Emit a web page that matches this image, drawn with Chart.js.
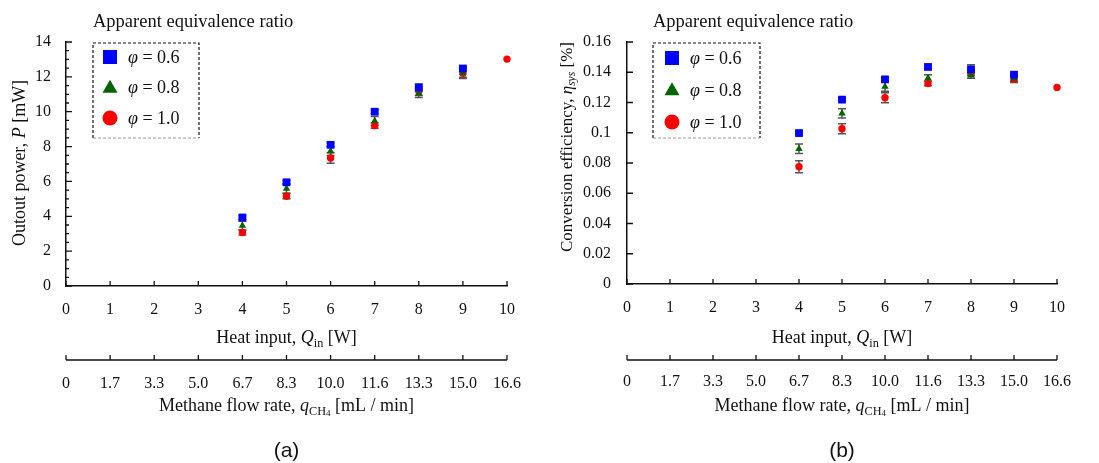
<!DOCTYPE html>
<html lang="en">
<head>
<meta charset="UTF-8">
<title>Output power and conversion efficiency</title>
<style>
    body { margin: 0; background: #fff; width: 1099px; height: 463px; overflow: hidden; position: relative; }
    canvas { position: absolute; top: 0; }
    #chartA { left: 0; }
    #chartB { left: 550px; }
</style>
</head>
<body>

<canvas id="chartA" width="550" height="463"></canvas>
<canvas id="chartB" width="549" height="463"></canvas>

<script src="https://cdn.jsdelivr.net/npm/chart.js"></script>
<script>
    // heat input Q_in [W] and matching methane flow rate tick labels
    const heatInput = [4, 5, 6, 7, 8, 9, 10];
    const flowRateLabels = ['0', '1.7', '3.3', '5.0', '6.7', '8.3', '10.0', '11.6', '13.3', '15.0', '16.6'];
    const seriesNames = ['φ = 0.6', 'φ = 0.8', 'φ = 1.0'];

    // (a) output power P [mW]
    const powerPhi06 = [3.93, 5.95, 8.10, 10.0, 11.39, 12.48, null];
    const powerPhi08 = [3.46, 5.59, 7.74, 9.47, 11.06, 12.23, null];
    const powerPhi10 = [3.07, 5.15, 7.34, 9.20, 11.18, 12.20, 13.02];
    const powerErr06 = [0.10, 0.10, 0.10, 0.10, 0.20, 0.15, 0];
    const powerErr08 = [0.25, 0.25, 0.25, 0.25, 0.25, 0.25, 0];
    const powerErr10 = [0.15, 0.15, 0.30, 0.15, 0.25, 0.30, 0];

    // (b) conversion efficiency eta_sys [%]
    const effPhi06 = [0.0998, 0.1219, 0.1353, 0.1435, 0.1419, 0.1384, null];
    const effPhi08 = [0.0894, 0.1128, 0.1305, 0.1362, 0.1380, 0.1360, null];
    const effPhi10 = [0.0775, 0.1026, 0.1232, 0.1325, 0.1397, 0.1353, 0.1300];
    const effErr06 = [0.001, 0.001, 0.001, 0.001, 0.003, 0.001, 0];
    const effErr08 = [0.0032, 0.003, 0.003, 0.0022, 0.002, 0.002, 0];
    const effErr10 = [0.004, 0.0033, 0.0033, 0.0015, 0.002, 0.002, 0];

    const serif = '"Liberation Serif", "Times New Roman", serif';
    const colors = ['#0000ff', '#006400', '#ff0000'];
    const styles = ['rect', 'triangle', 'circle'];
    const radii = [5.5, 4.3, 3.7];

    // draws text made of pieces: '' normal, 'i' italic, 's' subscript, 'si' italic subscript, 'ss' small subscript
    function drawRich(ctx, parts, cx, cy, size, align) {
        const items = parts.map(function (p) {
            const k = p[1];
            let s = size, dy = 0;
            if (k.indexOf('ss') === 0) { s = size * 0.5; dy = size * 0.3; }
            else if (k.indexOf('s') === 0) { s = size * 0.68; dy = size * 0.2; }
            const font = (k.indexOf('i') >= 0 ? 'italic ' : '') + s + 'px ' + serif;
            ctx.font = font;
            return { t: p[0], font: font, dy: dy, w: ctx.measureText(p[0]).width };
        });
        const total = items.reduce((a, b) => a + b.w, 0);
        let x = align === 'left' ? cx : cx - total / 2;
        ctx.textAlign = 'left';
        ctx.textBaseline = 'alphabetic';
        items.forEach(function (it) {
            ctx.font = it.font;
            ctx.fillText(it.t, x, cy + size * 0.33 + it.dy);
            x += it.w;
        });
    }

    function drawMarker(ctx, style, x, y, size, color) {
        ctx.fillStyle = color;
        ctx.beginPath();
        if (style === 'rect') {
            ctx.rect(x - size / 2, y - size / 2, size, size);
        } else if (style === 'triangle') {
            const h = size * 0.866;
            ctx.moveTo(x, y - h * 0.6);
            ctx.lineTo(x + size / 2, y + h * 0.4);
            ctx.lineTo(x - size / 2, y + h * 0.4);
            ctx.closePath();
        } else {
            ctx.arc(x, y, size / 2, 0, Math.PI * 2);
        }
        ctx.fill();
    }

    const errorBars = {
        id: 'errorBars',
        beforeDatasetsDraw(chart) {
            const ctx = chart.ctx, yScale = chart.scales.y;
            ctx.save();
            ctx.strokeStyle = '#555';
            ctx.lineWidth = 1.5;
            chart.data.datasets.forEach(function (ds, i) {
                const meta = chart.getDatasetMeta(i);
                meta.data.forEach(function (pt, j) {
                    const v = ds.data[j].y, e = ds.errors[j];
                    if (v == null || !e) return;
                    const top = yScale.getPixelForValue(v + e);
                    const bot = yScale.getPixelForValue(v - e);
                    ctx.beginPath();
                    ctx.moveTo(pt.x, top); ctx.lineTo(pt.x, bot);
                    ctx.moveTo(pt.x - 4, top); ctx.lineTo(pt.x + 4, top);
                    ctx.moveTo(pt.x - 4, bot); ctx.lineTo(pt.x + 4, bot);
                    ctx.stroke();
                });
            });
            ctx.restore();
        }
    };

    const paperAxes = {
        id: 'paperAxes',
        afterDraw(chart, args, o) {
            const ctx = chart.ctx, a = chart.chartArea;
            const x = chart.scales.x, y = chart.scales.y, x2 = chart.scales.x2;
            ctx.save();
            ctx.strokeStyle = '#111';
            ctx.lineWidth = 1.3;
            ctx.beginPath();
            for (let i = 0; i <= 10; i++) {
                const px = x.getPixelForValue(i);
                ctx.moveTo(px, a.bottom); ctx.lineTo(px, a.bottom - 5);
            }
            const nMajor = Math.round((y.max - y.min) / o.yStep);
            for (let i = 0; i <= nMajor; i++) {
                const py = y.getPixelForValue(y.min + i * o.yStep);
                ctx.moveTo(a.left, py); ctx.lineTo(a.left + 6, py);
            }
            if (o.yMinor) {
                const nMinor = Math.round((y.max - y.min) / o.yMinor);
                for (let i = 0; i <= nMinor; i++) {
                    const py = y.getPixelForValue(y.min + i * o.yMinor);
                    ctx.moveTo(a.left, py); ctx.lineTo(a.left + 3, py);
                }
            }
            // methane flow rate axis
            const ly = x2.top + o.flowLineOffset;
            ctx.moveTo(a.left, ly); ctx.lineTo(a.right, ly);
            for (let i = 0; i <= 10; i++) {
                const px = x2.getPixelForValue(i);
                ctx.moveTo(px, ly); ctx.lineTo(px, ly - 5);
            }
            ctx.stroke();

            // axis titles
            ctx.fillStyle = '#111';
            const mid = (a.left + a.right) / 2;
            drawRich(ctx, [['Heat input, ', ''], ['Q', 'i'], ['in', 's'], [' [W]', '']], mid, o.xTitleY, 18);
            drawRich(ctx, [['Methane flow rate, ', ''], ['q', 'i'], ['CH', 's'], ['4', 'ss'], [' [mL / min]', '']], mid, o.flowTitleY, 18);
            ctx.save();
            ctx.translate(o.yTitle[0], o.yTitle[1]);
            ctx.rotate(-Math.PI / 2);
            drawRich(ctx, o.yTitleParts, 0, 0, o.yTitleSize);
            ctx.restore();

            // legend title and dashed box
            drawRich(ctx, [['Apparent equivalence ratio', '']], o.box.x, 21, 18.5, 'left');
            const b = o.box;
            ctx.setLineDash([3, 2]);
            ctx.lineWidth = 1.2;
            ctx.strokeStyle = '#111';
            ctx.beginPath();
            ctx.moveTo(b.x, b.y + b.h); ctx.lineTo(b.x, b.y); ctx.lineTo(b.x + b.w, b.y); ctx.lineTo(b.x + b.w, b.y + b.h);
            ctx.stroke();
            ctx.strokeStyle = '#999';
            ctx.beginPath();
            ctx.moveTo(b.x, b.y + b.h); ctx.lineTo(b.x + b.w, b.y + b.h);
            ctx.stroke();
            ctx.setLineDash([]);
            chart.data.datasets.forEach(function (ds, i) {
                const ry = b.rows[i];
                drawMarker(ctx, styles[i], b.markerX, ry, i === 0 ? 14 : 15, colors[i]);
                ctx.fillStyle = '#111';
                drawRich(ctx, [[ds.label.slice(0, 1), 'i'], [ds.label.slice(1), '']], b.textX, ry, 18, 'left');
            });

            // panel caption
            ctx.font = '21px "Liberation Sans", Arial, sans-serif';
            ctx.textAlign = 'center';
            ctx.textBaseline = 'middle';
            ctx.fillText(o.caption, mid, 451);
            ctx.restore();
        }
    };

    function makeDatasets(series, errors) {
        return series.map(function (vals, i) {
            return {
                label: seriesNames[i],
                data: heatInput.map((q, j) => ({ x: q, y: vals[j] })),
                errors: errors[i],
                pointStyle: styles[i],
                pointRadius: radii[i],
                backgroundColor: colors[i],
                borderColor: colors[i],
                borderWidth: 0,
                showLine: false,
                clip: false
            };
        });
    }

    function makeChart(id, d) {
        const tickFont = { family: serif, size: 16 };
        return new Chart(document.getElementById(id), {
            type: 'scatter',
            data: { datasets: makeDatasets(d.series, d.errors) },
            options: {
                responsive: false,
                animation: false,
                layout: { padding: { top: 42, right: d.padRight, left: 0, bottom: 0 } },
                plugins: {
                    legend: { display: false },
                    tooltip: { enabled: false },
                    paperAxes: d.paper
                },
                scales: {
                    x: {
                        type: 'linear', position: 'bottom', min: 0, max: 10,
                        ticks: { stepSize: 1, padding: 14, color: '#111', font: tickFont },
                        grid: { display: false, drawTicks: false },
                        border: { display: true, color: '#111', width: 1.5 },
                        afterFit: s => { s.height = 60; }
                    },
                    x2: {
                        type: 'linear', position: 'bottom', min: 0, max: 10,
                        ticks: { stepSize: 1, padding: 28, color: '#111', font: tickFont, callback: (v, i) => flowRateLabels[i] },
                        grid: { display: false, drawTicks: false },
                        border: { display: false },
                        afterFit: s => { s.height = d.x2Height; }
                    },
                    y: {
                        min: 0, max: d.yMax,
                        ticks: { stepSize: d.paper.yStep, padding: d.yPad, color: '#111', font: tickFont, callback: v => String(+v.toFixed(2)) },
                        grid: { display: false, drawTicks: false },
                        border: { display: true, color: '#111', width: 1.5 },
                        afterFit: s => { s.width = d.yWidth; }
                    }
                }
            },
            plugins: [errorBars, paperAxes]
        });
    }

    makeChart('chartA', {
        series: [powerPhi06, powerPhi08, powerPhi10],
        errors: [powerErr06, powerErr08, powerErr10],
        yMax: 14, yWidth: 66, yPad: 15, padRight: 43, x2Height: 117,
        paper: {
            yStep: 2, yMinor: 0.5, flowLineOffset: 14, xTitleY: 337, flowTitleY: 405,
            yTitle: [19, 163], yTitleSize: 18,
            yTitleParts: [['Outout power, ', ''], ['P', 'i'], [' [mW]', '']],
            box: { x: 93, y: 43, w: 106, h: 95, markerX: 110, textX: 128, rows: [57, 87.5, 118] },
            caption: '(a)'
        }
    });

    makeChart('chartB', {
        series: [effPhi06, effPhi08, effPhi10],
        errors: [effErr06, effErr08, effErr10],
        yMax: 0.16, yWidth: 77, yPad: 16, padRight: 26, x2Height: 119,
        paper: {
            yStep: 0.02, yMinor: 0, flowLineOffset: 16, xTitleY: 337, flowTitleY: 405,
            yTitle: [16, 147], yTitleSize: 17,
            yTitleParts: [['Conversion efficiency, ', ''], ['η', 'i'], ['sys', 'si'], [' [%]', '']],
            box: { x: 103, y: 43, w: 107, h: 95, markerX: 122, textX: 140, rows: [58, 90, 122] },
            caption: '(b)'
        }
    });
</script>
</body>
</html>
